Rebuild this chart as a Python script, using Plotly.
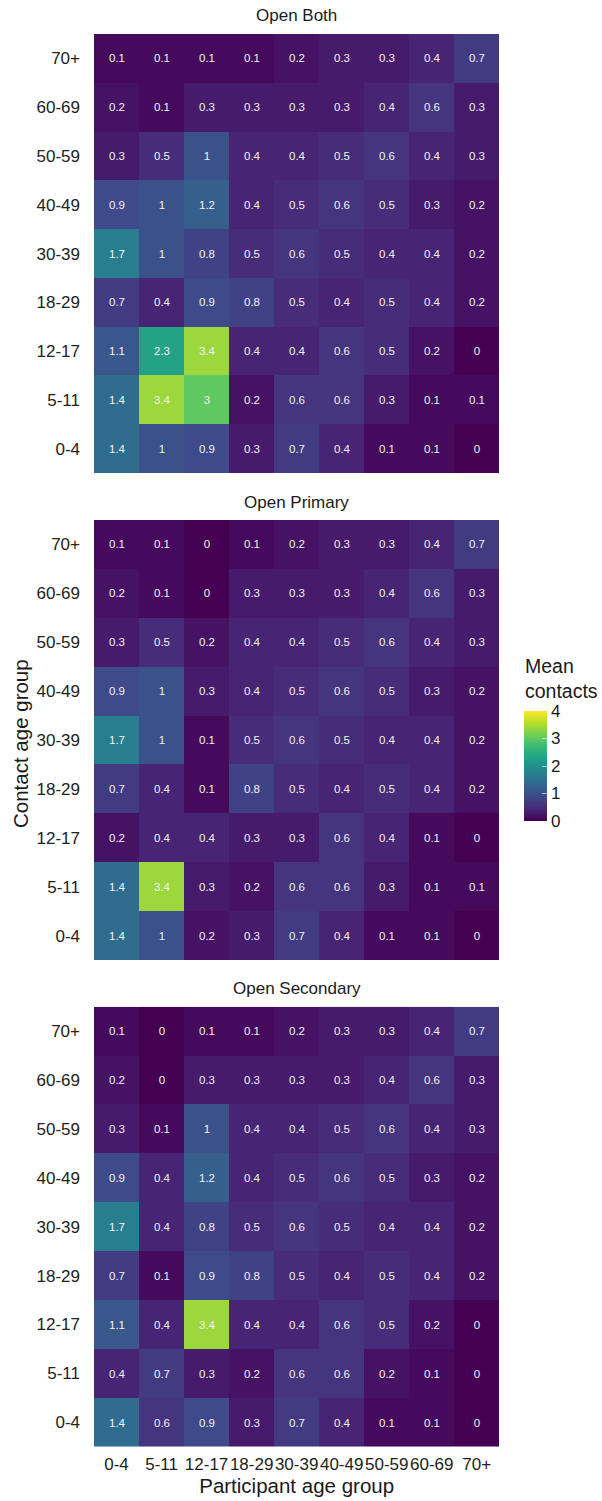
import plotly.graph_objects as go

participant_groups = ["0-4", "5-11", "12-17", "18-29", "30-39", "40-49", "50-59", "60-69", "70+"]
contact_groups = ["0-4", "5-11", "12-17", "18-29", "30-39", "40-49", "50-59", "60-69", "70+"]
panel_titles = ["Open Both", "Open Primary", "Open Secondary"]

# rows: contact age group (0-4 ... 70+), columns: participant age group
open_both = [
    [1.4, 1.0, 0.9, 0.3, 0.7, 0.4, 0.1, 0.1, 0.0],
    [1.4, 3.4, 3.0, 0.2, 0.6, 0.6, 0.3, 0.1, 0.1],
    [1.1, 2.3, 3.4, 0.4, 0.4, 0.6, 0.5, 0.2, 0.0],
    [0.7, 0.4, 0.9, 0.8, 0.5, 0.4, 0.5, 0.4, 0.2],
    [1.7, 1.0, 0.8, 0.5, 0.6, 0.5, 0.4, 0.4, 0.2],
    [0.9, 1.0, 1.2, 0.4, 0.5, 0.6, 0.5, 0.3, 0.2],
    [0.3, 0.5, 1.0, 0.4, 0.4, 0.5, 0.6, 0.4, 0.3],
    [0.2, 0.1, 0.3, 0.3, 0.3, 0.3, 0.4, 0.6, 0.3],
    [0.1, 0.1, 0.1, 0.1, 0.2, 0.3, 0.3, 0.4, 0.7],
]
open_primary = [
    [1.4, 1.0, 0.2, 0.3, 0.7, 0.4, 0.1, 0.1, 0.0],
    [1.4, 3.4, 0.3, 0.2, 0.6, 0.6, 0.3, 0.1, 0.1],
    [0.2, 0.4, 0.4, 0.3, 0.3, 0.6, 0.4, 0.1, 0.0],
    [0.7, 0.4, 0.1, 0.8, 0.5, 0.4, 0.5, 0.4, 0.2],
    [1.7, 1.0, 0.1, 0.5, 0.6, 0.5, 0.4, 0.4, 0.2],
    [0.9, 1.0, 0.3, 0.4, 0.5, 0.6, 0.5, 0.3, 0.2],
    [0.3, 0.5, 0.2, 0.4, 0.4, 0.5, 0.6, 0.4, 0.3],
    [0.2, 0.1, 0.0, 0.3, 0.3, 0.3, 0.4, 0.6, 0.3],
    [0.1, 0.1, 0.0, 0.1, 0.2, 0.3, 0.3, 0.4, 0.7],
]
open_secondary = [
    [1.4, 0.6, 0.9, 0.3, 0.7, 0.4, 0.1, 0.1, 0.0],
    [0.4, 0.7, 0.3, 0.2, 0.6, 0.6, 0.2, 0.1, 0.0],
    [1.1, 0.4, 3.4, 0.4, 0.4, 0.6, 0.5, 0.2, 0.0],
    [0.7, 0.1, 0.9, 0.8, 0.5, 0.4, 0.5, 0.4, 0.2],
    [1.7, 0.4, 0.8, 0.5, 0.6, 0.5, 0.4, 0.4, 0.2],
    [0.9, 0.4, 1.2, 0.4, 0.5, 0.6, 0.5, 0.3, 0.2],
    [0.3, 0.1, 1.0, 0.4, 0.4, 0.5, 0.6, 0.4, 0.3],
    [0.2, 0.0, 0.3, 0.3, 0.3, 0.3, 0.4, 0.6, 0.3],
    [0.1, 0.0, 0.1, 0.1, 0.2, 0.3, 0.3, 0.4, 0.7],
]
colorbar_ticks = [0, 1, 2, 3, 4]

W, H = 602, 1501
FONT = "Liberation Sans, Arial, sans-serif"

def py(px):
    return 1 - px / H

x_dom = [94 / W, 499.3 / W]
panels_px = [(34, 473.3), (520, 960), (1006.7, 1446.7)]
panels = [open_both, open_primary, open_secondary]

fig = go.Figure()
for i, (z, (top, bot)) in enumerate(zip(panels, panels_px)):
    sfx = "" if i == 0 else str(i + 1)
    fig.add_trace(go.Heatmap(
        x=participant_groups, y=contact_groups, z=z,
        xaxis="x" + sfx, yaxis="y" + sfx,
        colorscale="Viridis", zmin=0, zmax=4,
        texttemplate="%{z}", textfont=dict(color="#f2f2f2", size=11.5, family=FONT),
        showscale=(i == 0),
        xgap=0, ygap=0,
        colorbar=dict(
            x=524 / W, xanchor="left", xpad=0,
            y=py(821), yanchor="bottom", ypad=0,
            len=110 / H, lenmode="fraction",
            thickness=23, thicknessmode="pixels",
            outlinewidth=0,
            tickvals=colorbar_ticks, ticktext=[str(t) for t in colorbar_ticks],
            ticks="inside", ticklen=5, tickcolor="rgba(255,255,255,0.6)",
            tickfont=dict(size=17, color="#1a1a1a", family=FONT),
        ),
    ))
    fig.layout["xaxis" + sfx] = dict(
        domain=x_dom, anchor="y" + sfx, type="category",
        categoryorder="array", categoryarray=participant_groups,
        showticklabels=(i == 2), tickangle=0, ticks="", showgrid=False, zeroline=False,
        tickfont=dict(size=17, color="#222222", family=FONT), ticklabelstandoff=5,
        title=dict(text="Participant age group" if i == 2 else "",
                   font=dict(size=20.5, color="#1a1a1a", family=FONT), standoff=4),
    )
    fig.layout["yaxis" + sfx] = dict(
        domain=[py(bot), py(top)], anchor="x" + sfx, type="category",
        categoryorder="array", categoryarray=contact_groups,
        ticks="", showgrid=False, zeroline=False,
        tickfont=dict(size=17, color="#222222", family=FONT), ticklabelstandoff=13,
    )
    fig.add_annotation(
        text=panel_titles[i], x=(x_dom[0] + x_dom[1]) / 2, y=py(top - 18),
        xref="paper", yref="paper", showarrow=False, yanchor="middle",
        font=dict(size=17, color="#1a1a1a", family=FONT),
    )

fig.add_annotation(
    text="Mean<br>contacts", x=523 / W, y=py(678), xref="paper", yref="paper",
    showarrow=False, xanchor="left", yanchor="middle", align="left",
    font=dict(size=19.5, color="#1a1a1a", family=FONT),
)

fig.add_annotation(
    text="Contact age group", x=20 / W, y=py(744), xref="paper", yref="paper",
    showarrow=False, textangle=-90, xanchor="center", yanchor="middle",
    font=dict(size=20.5, color="#1a1a1a", family=FONT),
)

fig.update_layout(
    width=W, height=H, margin=dict(l=0, r=0, t=0, b=0),
    paper_bgcolor="white", plot_bgcolor="white",
    font=dict(family=FONT),
)

fig.write_html("out.html")
